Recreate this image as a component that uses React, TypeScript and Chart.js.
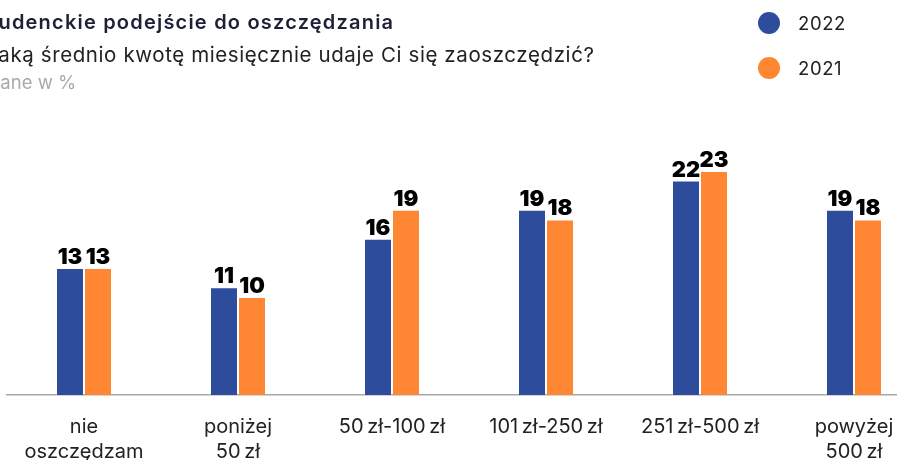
import React, { useEffect, useRef } from "react";
import { Chart, registerables } from "chart.js";

Chart.register(...registerables);

const categories: (string | string[])[] = [
  ["nie", "oszczędzam"],
  ["poniżej", "50\u2009zł"],
  "50\u2009zł-100\u2009zł",
  "101\u2009zł-250\u2009zł",
  "251\u2009zł-500\u2009zł",
  ["powyżej", "500\u2009zł"],
];
const seriesNames = ["2022", "2021"];
const values2022 = [13, 11, 16, 19, 22, 19];
const values2021 = [13, 10, 19, 18, 23, 18];
const seriesColors = ["#2E4C9C", "#FF8632"];
const yMax = 30;

const titleText = "Studenckie podejście do oszczędzania";
const subtitleText = "Jaką średnio kwotę miesięcznie udaje Ci się zaoszczędzić?";
const noteText = "Dane w %";

const FONT = "Inter, 'Noto Sans', sans-serif";

const valueLabels = {
  id: "valueLabels",
  afterDatasetsDraw(chart: any) {
    const ctx = chart.ctx;
    ctx.save();
    ctx.font = `900 22px ${FONT}`;
    ctx.fillStyle = "#000";
    ctx.textAlign = "center";
    ctx.textBaseline = "alphabetic";
    chart.data.datasets.forEach((ds: any, i: number) => {
      chart.getDatasetMeta(i).data.forEach((bar: any, j: number) => {
        ctx.fillText(String(ds.data[j]), bar.x, bar.y - 5);
      });
    });
    ctx.restore();
  },
};

export default function App() {
  const ref = useRef<HTMLCanvasElement | null>(null);
  useEffect(() => {
    if (!ref.current) return;
    const chart = new Chart(ref.current, {
      type: "bar",
      data: {
        labels: categories,
        datasets: [
          {
            label: seriesNames[0],
            data: values2022,
            backgroundColor: seriesColors[0],
            barPercentage: 26 / 28,
            categoryPercentage: 56 / 154,
          },
          {
            label: seriesNames[1],
            data: values2021,
            backgroundColor: seriesColors[1],
            barPercentage: 26 / 28,
            categoryPercentage: 56 / 154,
          },
        ],
      },
      options: {
        responsive: false,
        animation: false,
        layout: { padding: { left: 7, right: 9, top: 104, bottom: 0 } },
        plugins: {
          legend: { display: false },
          title: { display: false },
          tooltip: { enabled: false },
        },
        scales: {
          y: { display: false, min: 0, max: yMax },
          x: {
            grid: { display: false, drawTicks: false },
            border: { display: true, color: "#A8A8A8", width: 1.5 },
            ticks: {
              color: "#222",
              padding: 19,
              maxRotation: 0,
              autoSkip: false,
              font: { family: FONT, size: 20, weight: "normal", lineHeight: 1.28 },
            },
            afterFit: (scale: any) => {
              scale.height = 65;
            },
          },
        },
      },
      plugins: [valueLabels],
    } as any);
    return () => chart.destroy();
  }, []);

  return (
    <div
      style={{
        position: "fixed",
        left: 0,
        top: 0,
        width: 897,
        height: 460,
        overflow: "hidden",
        background: "#fff",
        fontFamily: FONT,
      }}
    >
      <canvas
        ref={ref}
        width={940}
        height={460}
        style={{ position: "absolute", left: 0, top: 0, width: 940, height: 460 }}
      />
      <div style={{ position: "absolute", left: -24, top: 10, fontSize: 20, fontWeight: 600, letterSpacing: "1.2px", color: "#1E2136", whiteSpace: "nowrap", lineHeight: "24px" }}>
        {titleText}
      </div>
      <div style={{ position: "absolute", left: -14, top: 42, fontSize: 20.5, letterSpacing: "0.6px", color: "#222", whiteSpace: "nowrap", lineHeight: "26px" }}>
        {subtitleText}
      </div>
      <div style={{ position: "absolute", left: -13, top: 70, fontSize: 18.5, color: "#A9A9A9", whiteSpace: "nowrap", lineHeight: "24px" }}>
        {noteText}
      </div>
      {seriesNames.map((name, i) => (
        <div key={name} style={{ position: "absolute", left: 758, top: 12 + i * 45, height: 22, display: "flex", alignItems: "center" }}>
          <span style={{ width: 22, height: 22, borderRadius: "50%", background: seriesColors[i], display: "inline-block" }} />
          <span style={{ marginLeft: 18, fontSize: 18.5, letterSpacing: "0.6px", color: "#222" }}>{name}</span>
        </div>
      ))}
    </div>
  );
}
